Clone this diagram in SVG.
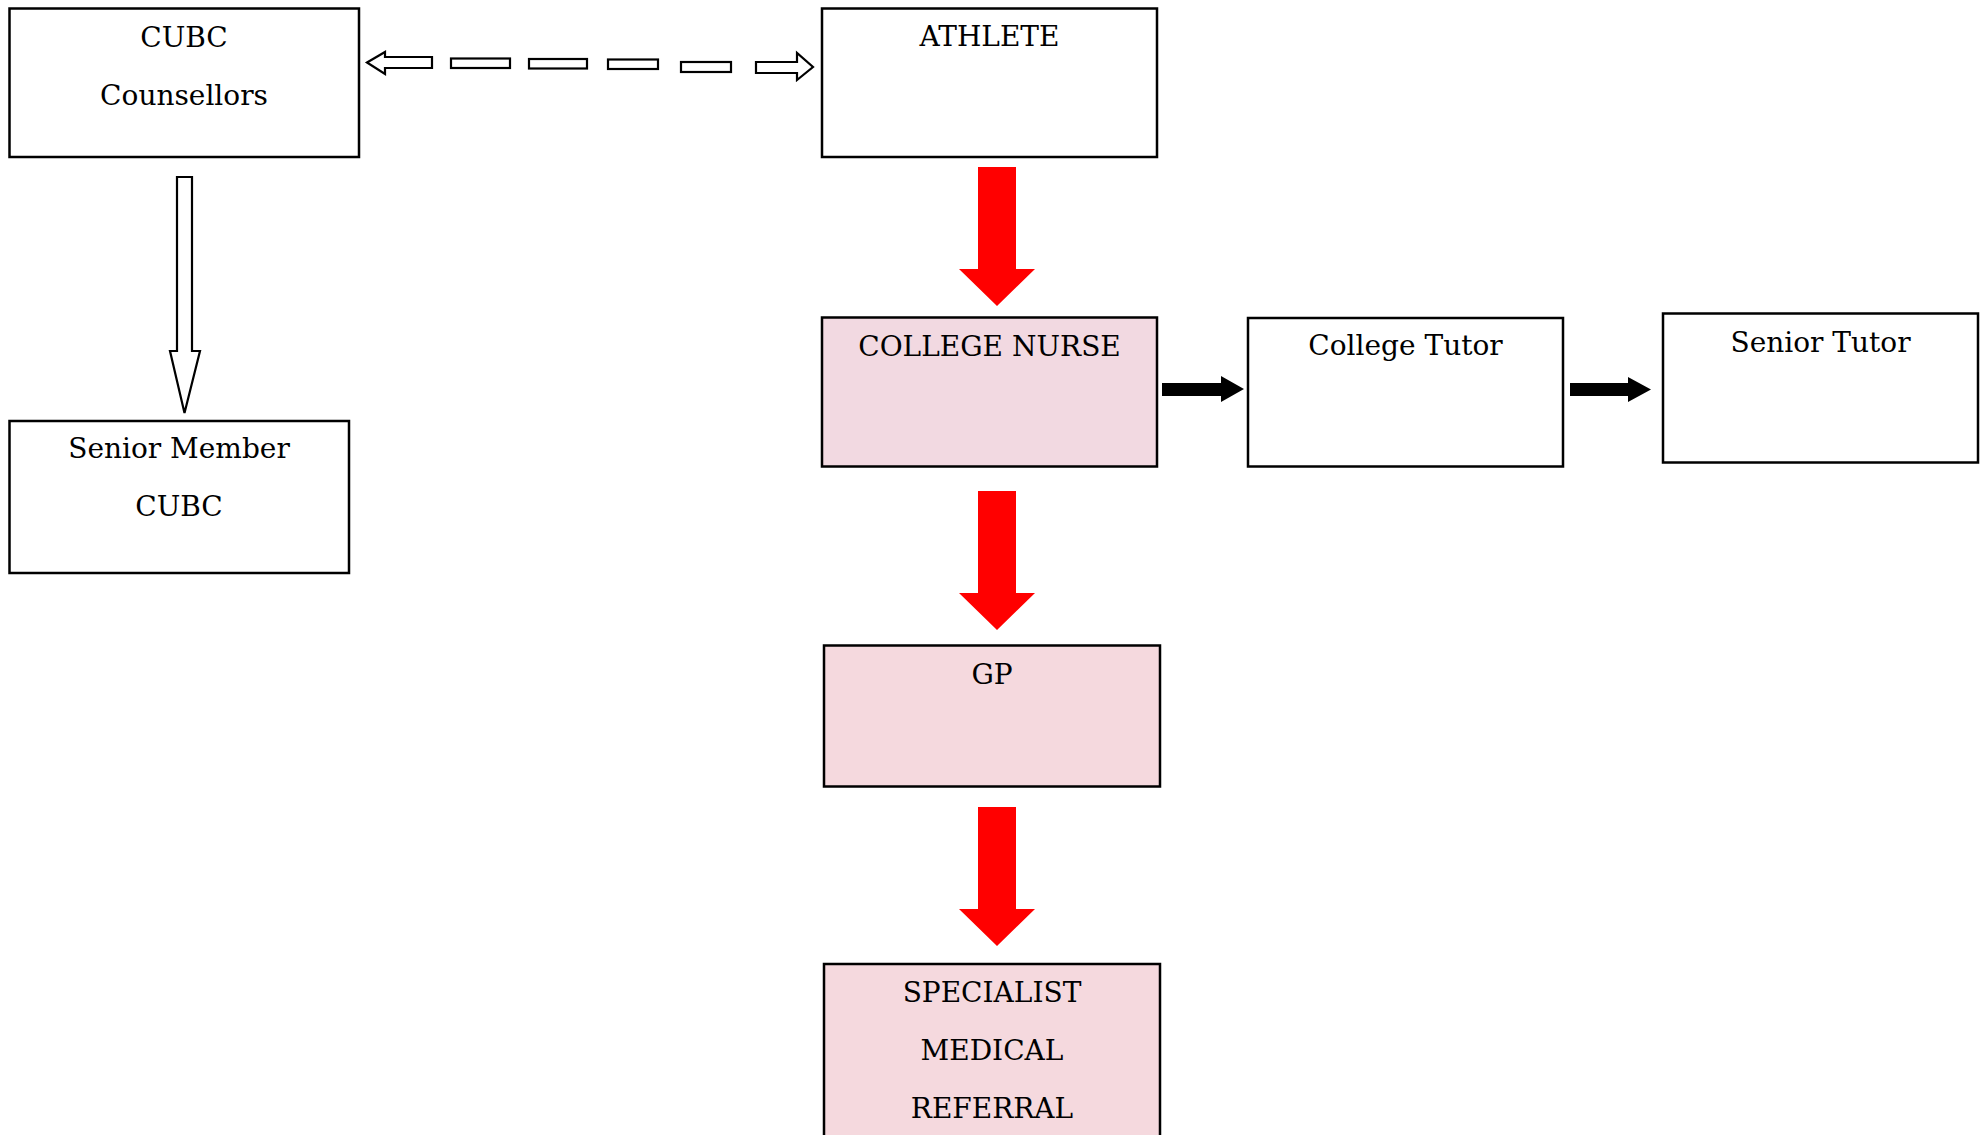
<svg xmlns="http://www.w3.org/2000/svg" width="1982" height="1135" viewBox="0 0 1982 1135">
<style>
.box{stroke:#000;stroke-width:2.5;fill:#fff}
.nurse{fill:#f2d9e1}
.gp{fill:#f5d9de}
.lbl{font-family:"DejaVu Serif","Liberation Serif",serif;font-size:28px;fill:#000;text-anchor:middle}
.out{fill:#fff;stroke:#000;stroke-width:2.2}
.red{fill:#ff0000}
.blk{fill:#000}
</style>
<rect width="1982" height="1135" fill="#fff"/>
<g id="connectors">
  <g id="cubc-athlete">
    <polygon class="out" points="367,62.5 385,52 385,57 432,57 432,68 385,68 385,74"/>
    <rect class="out" x="451" y="58.5" width="59" height="9.5"/>
    <rect class="out" x="529" y="59" width="58" height="9.5"/>
    <rect class="out" x="608" y="59.5" width="50" height="9.5"/>
    <rect class="out" x="681" y="62" width="50" height="10"/>
    <polygon class="out" points="756,62 797,62 797,53 813,67 797,80 797,73 756,73"/>
  </g>
  <polygon id="cubc-senior" class="out" points="177,177 192,177 192,351 200,351 184.5,413 170,351 177,351"/>
  <polygon id="athlete-nurse" class="red" points="978,167 1016,167 1016,269 1035,269 997,306 959,269 978,269"/>
  <polygon id="nurse-gp" class="red" points="978,491 1016,491 1016,593 1035,593 997,630 959,593 978,593"/>
  <polygon id="gp-specialist" class="red" points="978,807 1016,807 1016,909 1035,909 997,946 959,909 978,909"/>
  <polygon id="nurse-tutor" class="blk" points="1162,383 1221,383 1221,376 1244,389 1221,402 1221,396 1162,396"/>
  <polygon id="tutor-senior" class="blk" points="1570,383 1628,383 1628,377 1651,389.5 1628,402 1628,396 1570,396"/>
</g>
<g id="cubc-counsellors">
  <rect class="box" x="9.5" y="8.5" width="349.5" height="148.5"/>
  <text class="lbl" x="184" y="47">CUBC</text>
  <text class="lbl" x="184" y="105">Counsellors</text>
</g>
<g id="athlete">
  <rect class="box" x="822" y="8.5" width="335" height="148.5"/>
  <text class="lbl" x="989.5" y="46">ATHLETE</text>
</g>
<g id="senior-member">
  <rect class="box" x="9.5" y="421" width="339.5" height="152"/>
  <text class="lbl" x="179" y="458">Senior Member</text>
  <text class="lbl" x="179" y="516">CUBC</text>
</g>
<g id="college-nurse">
  <rect class="box nurse" x="822" y="317.5" width="335" height="149"/>
  <text class="lbl" x="989.5" y="356">COLLEGE NURSE</text>
</g>
<g id="college-tutor">
  <rect class="box" x="1248" y="318" width="315" height="148.5"/>
  <text class="lbl" x="1405.5" y="355">College Tutor</text>
</g>
<g id="senior-tutor">
  <rect class="box" x="1663" y="313.5" width="315" height="149"/>
  <text class="lbl" x="1820.5" y="352">Senior Tutor</text>
</g>
<g id="gp">
  <rect class="box gp" x="824" y="645.5" width="336" height="141"/>
  <text class="lbl" x="992" y="684">GP</text>
</g>
<g id="specialist">
  <rect class="box gp" x="824" y="964" width="336" height="200"/>
  <text class="lbl" x="992" y="1002">SPECIALIST</text>
  <text class="lbl" x="992" y="1060">MEDICAL</text>
  <text class="lbl" x="992" y="1118">REFERRAL</text>
</g>
</svg>
